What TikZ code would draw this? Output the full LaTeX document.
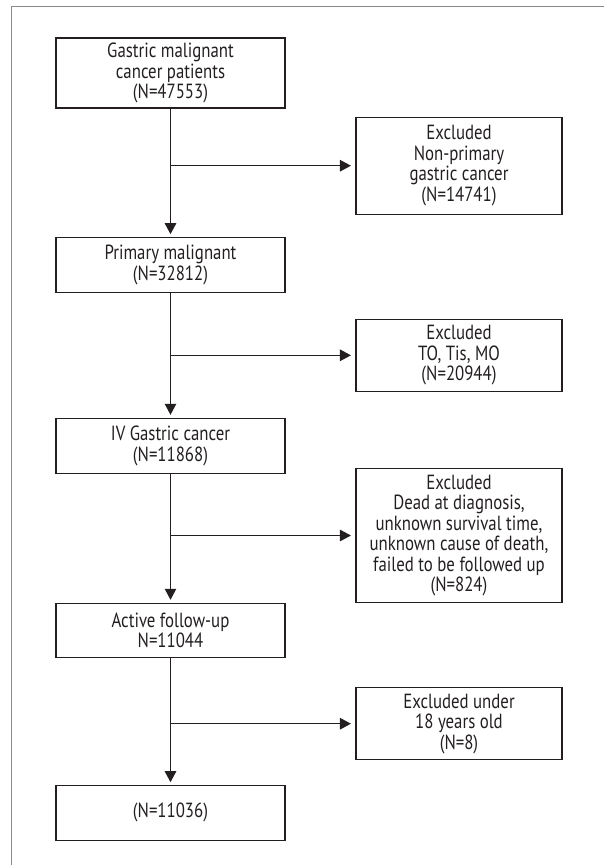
\documentclass[tikz,border=0pt]{standalone}
\usepackage{fontspec}
\setmainfont{PT Sans}[FakeStretch=0.82]
\usetikzlibrary{arrows.meta}
\definecolor{ink}{HTML}{231F20}
\definecolor{framegray}{HTML}{8A8A8A}
\begin{document}
\begin{tikzpicture}[x=1pt,y=-1pt,
  box/.style={draw=ink, line width=1.1pt, text=ink, minimum width=229pt, align=center,
    font=\fontsize{20.5}{20.5}\selectfont, inner sep=0pt},
  exbox/.style={box, minimum width=206pt},
  arr/.style={draw=ink, line width=1.1pt, -{Triangle[length=11pt,width=11.5pt]}, shorten >=3pt},
  harr/.style={arr, shorten >=4.5pt}
]
\useasboundingbox (0,0) rectangle (604,865);
\draw[framegray, line width=1pt] (11,865) -- (11,6.7) -- (604,6.7);

\node[box, minimum height=70pt]   (b1) at (170.5,73)    {Gastric malignant\\cancer patients\\(N=47553)};
\node[box, minimum height=54.6pt] (b2) at (170.5,265)   {Primary malignant\\(N=32812)};
\node[box, minimum height=54.7pt] (b3) at (170.5,445.7) {IV Gastric cancer\\(N=11868)};
\node[box, minimum height=54.4pt] (b4) at (170.5,630.5) {Active follow-up\\N=11044};
\node[box, minimum height=54.3pt] (b5) at (170.5,812.9) {(N=11036)};

\node[exbox, minimum height=96.7pt]  (e1) at (459,165.7) {Excluded\\Non-primary\\gastric cancer\\(N=14741)};
\node[exbox, minimum height=72pt]    (e2) at (459,355.3) {Excluded\\TO, Tis, MO\\(N=20944)};
\node[exbox, minimum height=134.4pt] (e3) at (459,535.5) {Excluded\\Dead at diagnosis,\\unknown survival time,\\unknown cause of death,\\failed to be followed up\\(N=824)};
\node[exbox, minimum height=72pt]    (e4) at (459,723.7) {Excluded under\\18 years old\\(N=8)};

\draw[arr] (b1.south) -- (b2.north);
\draw[arr] (b2.south) -- (b3.north);
\draw[arr] (b3.south) -- (b4.north);
\draw[arr] (b4.south) -- (b5.north);

\draw[harr] (b1.south |- e1.west) -- (e1.west);
\draw[harr] (b2.south |- e2.west) -- (e2.west);
\draw[harr] (b3.south |- e3.west) -- (e3.west);
\draw[harr] (b4.south |- e4.west) -- (e4.west);
\end{tikzpicture}
\end{document}
